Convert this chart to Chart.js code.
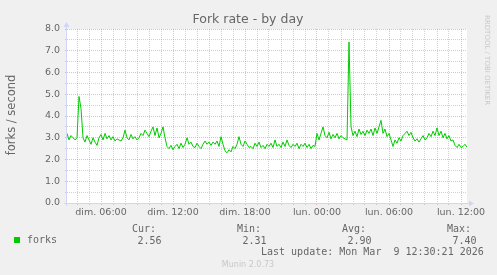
<!DOCTYPE html>
<html>
<head>
<meta charset="utf-8">
<script src="https://cdn.jsdelivr.net/npm/chart.js@4/dist/chart.umd.min.js"></script>
<style>
    html, body { margin: 0; padding: 0; background: #f0f0f0; }
    canvas { display: block; }
</style>
</head>
<body>
<canvas id="forkChart" width="497" height="275"></canvas>
<script>
/**
 * Munin - Fork rate - by day
 */

// Amostras a cada 10 minutos, a partir de dim. 03:10
const startHour = 3 + 10 / 60;
const stepMinutes = 10;
const forks = [
    3.2, 2.9, 3.1, 3.0, 2.9, 3.0, 4.9, 4.35, 3.0, 2.8,
    3.1, 2.9, 2.7, 3.0, 2.8, 2.65, 3.0, 3.15, 2.9, 3.2,
    2.95, 3.1, 2.9, 3.05, 2.85, 2.95, 2.9, 2.85, 3.0, 3.35,
    3.0, 2.9, 3.15, 2.95, 3.05, 2.9, 3.0, 3.2, 3.1, 3.35,
    3.2, 3.05, 3.3, 3.5, 3.1, 3.45, 3.0, 3.2, 3.5, 3.0,
    2.6, 2.5, 2.65, 2.45, 2.6, 2.7, 2.5, 2.75, 2.55, 2.7,
    3.0, 2.7, 2.8, 2.6, 2.55, 2.75, 2.6, 2.5, 2.7, 2.85,
    2.7, 2.8, 2.65, 2.8, 2.7, 2.85, 2.6, 3.05, 2.7, 2.4,
    2.31, 2.45, 2.35, 2.6, 2.5, 2.7, 3.05, 2.7, 2.6, 2.85,
    2.7, 2.55, 2.6, 2.5, 2.75, 2.6, 2.8, 2.55, 2.65, 2.5,
    2.7, 2.6, 2.75, 2.55, 2.9, 2.6, 2.7, 2.55, 2.8, 2.6,
    2.9, 2.65, 2.55, 2.7, 2.6, 2.75, 2.5, 2.7, 2.6, 2.75,
    2.55, 2.7, 2.5, 2.65, 2.6, 3.2, 2.9, 3.2, 3.5, 3.1,
    3.0, 3.25, 2.95, 3.15, 3.0, 3.2, 2.95, 3.1, 3.0, 2.95,
    2.9, 7.4, 3.5, 3.1, 3.3, 3.05, 3.4, 3.15, 3.3, 3.1,
    3.35, 3.2, 3.4, 3.1, 3.45, 3.2, 3.5, 3.8, 3.2, 3.4,
    3.05, 3.2, 2.9, 2.6, 2.9, 2.75, 3.0, 2.85, 3.1, 3.2,
    3.3, 3.1, 3.25, 3.0, 2.85, 2.95, 2.8, 2.95, 3.1, 2.9,
    3.0, 3.2, 3.05, 3.3, 3.1, 3.45, 3.1, 3.3, 3.0, 3.2,
    2.95, 3.1, 2.85, 2.9, 2.65, 2.55, 2.7, 2.55, 2.6, 2.7,
    2.56
];

// Eixo X (horas desde dim. 00:00)
const majorHours = [6, 12, 18, 24, 30, 36];
const majorLabels = ['dim. 06:00', 'dim. 12:00', 'dim. 18:00', 'lun. 00:00', 'lun. 06:00', 'lun. 12:00'];
const endHour = 36.5;

// Legenda
const seriesName = 'forks';
const statLabels = ['Cur:', 'Min:', 'Avg:', 'Max:'];
const statValues = ['2.56', '2.31', '2.90', '7.40'];
const lastUpdate = 'Last update: Mon Mar  9 12:30:21 2026';

const GRID = 'rgba(143,143,143,0.4)';
const MGRID = 'rgba(222,79,79,0.4)';
const AXIS = '#cfd6f8';
const FONT = '#666666';

const points = forks.map(function(v, i) {
    return { x: startHour + i * stepMinutes / 60, y: v };
});

const munin = {
    id: 'munin',
    beforeDraw: function(chart) {
        const c = chart.ctx;
        const a = chart.chartArea;
        c.save();
        c.fillStyle = '#f0f0f0';
        c.fillRect(0, 0, chart.width, chart.height);
        c.fillStyle = '#ffffff';
        c.fillRect(a.left, a.top, a.right - a.left, a.bottom - a.top);
        c.restore();
    },
    afterDraw: function(chart) {
        const c = chart.ctx;
        const a = chart.chartArea;
        c.save();

        // eixos com setas
        c.strokeStyle = AXIS;
        c.fillStyle = AXIS;
        c.lineWidth = 1;
        c.beginPath();
        c.moveTo(a.left - 3, a.bottom + 0.5);
        c.lineTo(a.right + 4, a.bottom + 0.5);
        c.moveTo(a.left - 0.5, a.bottom + 3);
        c.lineTo(a.left - 0.5, a.top - 3);
        c.stroke();
        c.beginPath();
        c.moveTo(a.right + 2, a.bottom - 2.5);
        c.lineTo(a.right + 7, a.bottom + 0.5);
        c.lineTo(a.right + 2, a.bottom + 3.5);
        c.fill();
        c.beginPath();
        c.moveTo(a.left - 3.5, a.top - 2);
        c.lineTo(a.left - 0.5, a.top - 7);
        c.lineTo(a.left + 2.5, a.top - 2);
        c.fill();

        // título
        c.fillStyle = FONT;
        c.textAlign = 'center';
        c.textBaseline = 'alphabetic';
        c.font = '12.5px "DejaVu Sans"';
        c.fillText('Fork rate - by day', 248, 23);

        // título do eixo Y
        c.save();
        c.translate(15, 115);
        c.rotate(-Math.PI / 2);
        c.font = '11.5px "DejaVu Sans"';
        c.fillText('forks / second', 0, 0);
        c.restore();

        // marca lateral
        c.save();
        c.translate(485, 15);
        c.rotate(Math.PI / 2);
        c.textAlign = 'left';
        c.fillStyle = '#c8c8c8';
        c.font = '7px "DejaVu Sans"';
        c.fillText('RRDTOOL / TOBI OETIKER', 0, 0);
        c.restore();

        // legenda
        c.textAlign = 'left';
        c.font = '10px "DejaVu Sans Mono"';
        c.fillStyle = '#00cc00';
        c.fillRect(14, 237, 6, 6);
        c.fillStyle = FONT;
        c.fillText(seriesName, 27, 243);
        const statX = [132, 237, 342, 447];
        statLabels.forEach(function(t, i) {
            c.fillText(t, statX[i], 232);
            c.fillText(statValues[i], statX[i] + 5.5, 244);
        });
        c.fillText(lastUpdate, 261, 255);

        c.textAlign = 'center';
        c.fillStyle = '#c8c8c8';
        c.font = '8px "DejaVu Sans"';
        c.fillText('Munin 2.0.73', 248, 267);

        c.restore();
    }
};

new Chart(document.getElementById('forkChart'), {
    type: 'line',
    data: {
        datasets: [{
            label: seriesName,
            data: points,
            borderColor: '#00cc00',
            borderWidth: 1,
            pointRadius: 0,
            tension: 0,
            fill: false
        }]
    },
    options: {
        responsive: false,
        animation: false,
        devicePixelRatio: 1,
        layout: { padding: { left: 0, top: 29, right: 30, bottom: 52 } },
        plugins: {
            legend: { display: false },
            title: { display: false },
            tooltip: { enabled: false }
        },
        scales: {
            x: {
                type: 'linear',
                min: startHour,
                max: endHour,
                afterFit: function(scale) { scale.height = 20; },
                border: { display: false, dash: [1, 1] },
                grid: {
                    color: function(ctx) {
                        return majorHours.indexOf(ctx.tick.value) >= 0 ? MGRID : GRID;
                    },
                    tickColor: function(ctx) {
                        return majorHours.indexOf(ctx.tick.value) >= 0 ? MGRID : GRID;
                    },
                    tickLength: 2
                },
                ticks: {
                    stepSize: 1,
                    includeBounds: false,
                    autoSkip: false,
                    maxRotation: 0,
                    padding: 2,
                    color: FONT,
                    font: { family: 'DejaVu Sans', size: 9.5 },
                    callback: function(value) {
                        const k = majorHours.indexOf(value);
                        return k >= 0 ? majorLabels[k] : '';
                    }
                }
            },
            y: {
                min: 0,
                max: 8,
                afterFit: function(scale) { scale.width = 67; },
                border: { display: false, dash: [1, 1] },
                grid: {
                    color: function(ctx) {
                        return Number.isInteger(ctx.tick.value) ? MGRID : GRID;
                    },
                    tickColor: function(ctx) {
                        return Number.isInteger(ctx.tick.value) ? MGRID : GRID;
                    },
                    tickLength: 2
                },
                ticks: {
                    stepSize: 0.5,
                    autoSkip: false,
                    padding: 5,
                    color: FONT,
                    font: { family: 'DejaVu Sans', size: 9.5 },
                    callback: function(value) {
                        return Number.isInteger(value) ? value.toFixed(1) : '';
                    }
                }
            }
        }
    },
    plugins: [munin]
});
</script>
</body>
</html>
